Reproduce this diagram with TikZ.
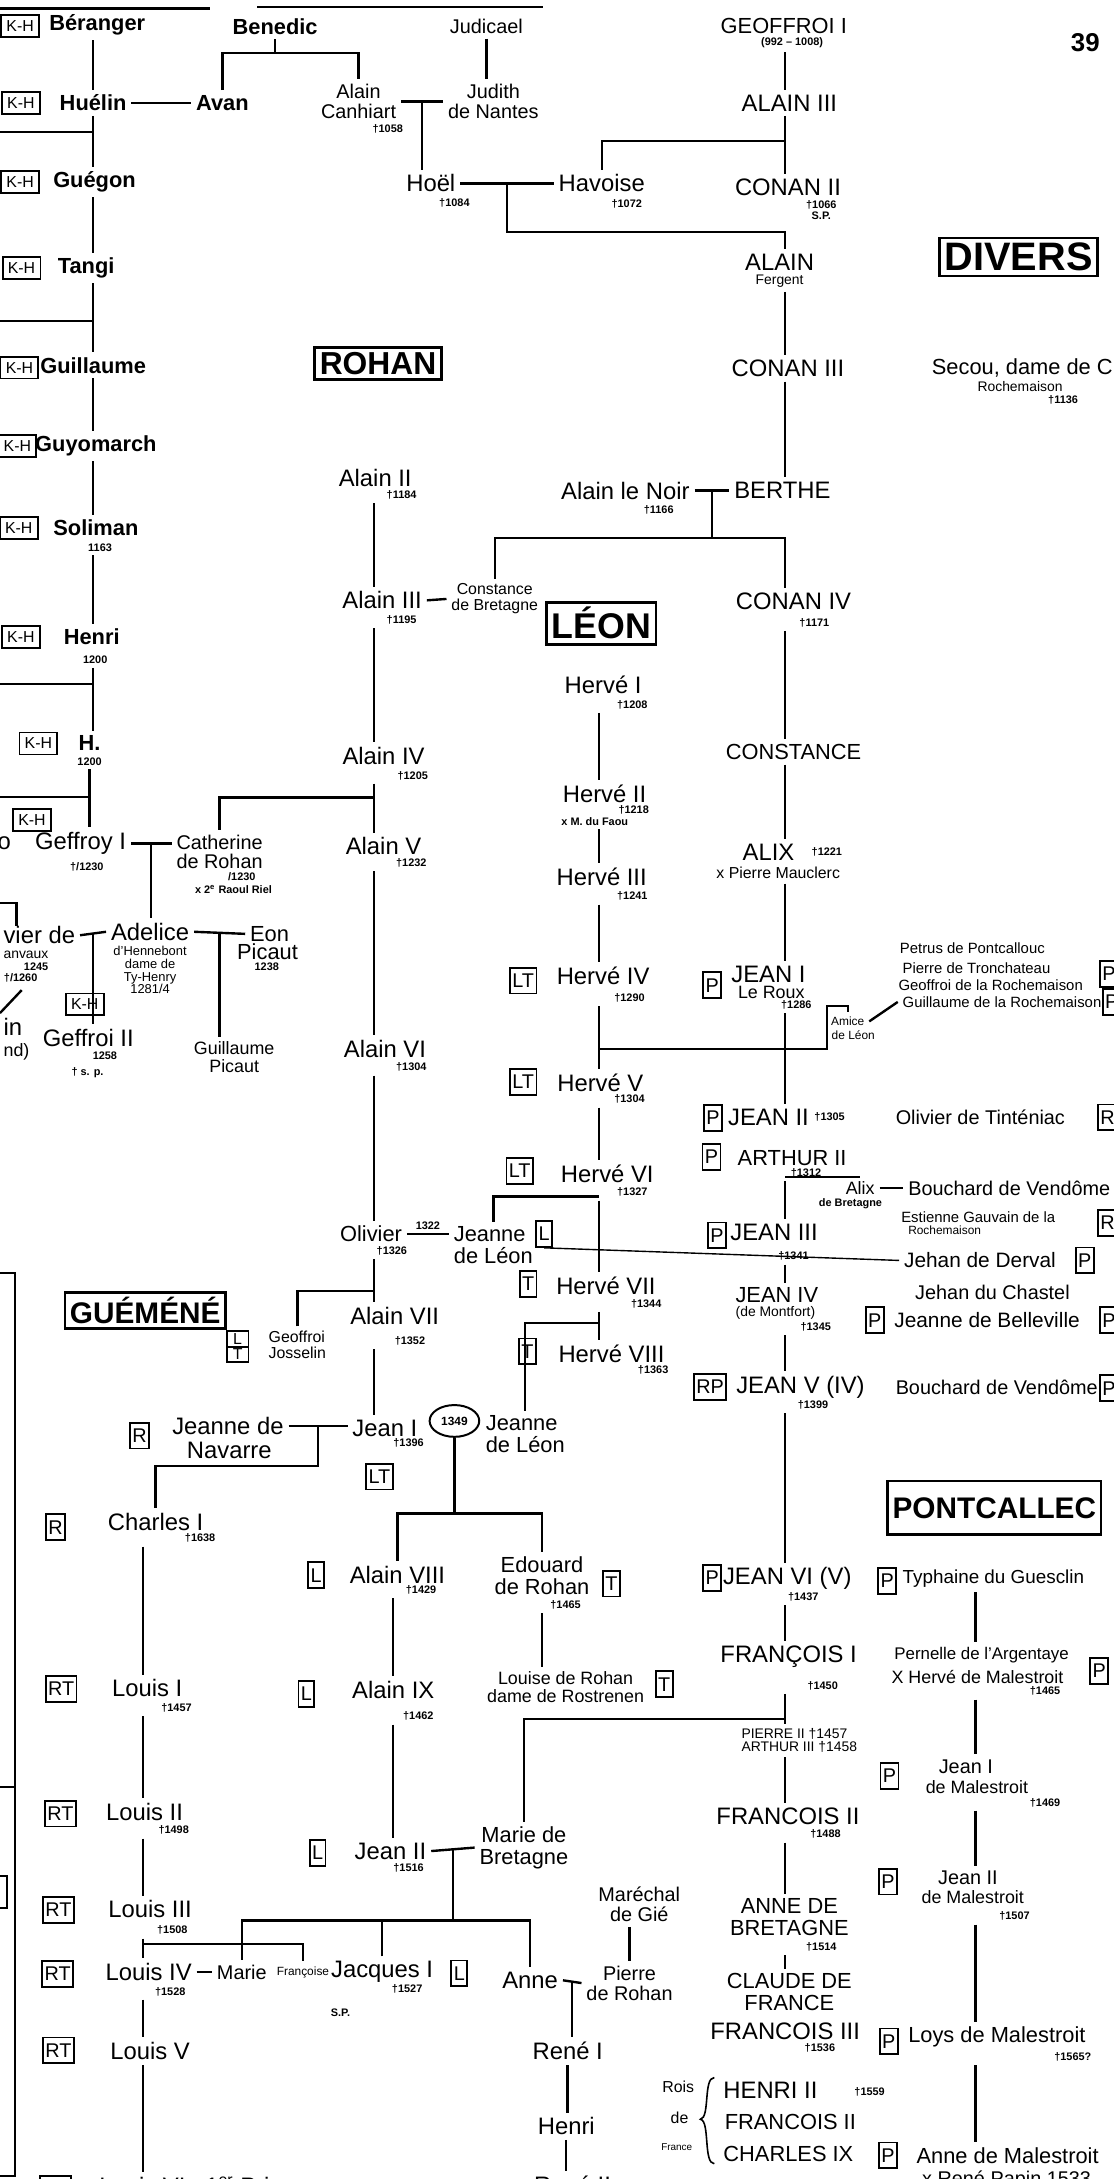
\documentclass[tikz,border=0pt]{standalone}
\usepackage{fontspec}
\setmainfont{Liberation Sans}
\usetikzlibrary{shapes.geometric}
\newcommand{\fsz}[1]{\fontsize{#1}{#1}\selectfont}
\tikzset{
  nm/.style={inner sep=1pt, outer sep=1.5pt, align=center, font=\fsz{12}},
  nb/.style={nm, font=\bfseries\fsz{11}},
  dt/.style={inner sep=0pt, outer sep=2pt, align=center, font=\bfseries\fsz{5.5}},
  tag/.style={draw, line width=0.9pt, inner sep=1.2pt, minimum height=13pt, font=\fsz{10}},
  kh/.style={tag, font=\fsz{8}, minimum height=11pt, minimum width=19pt},
  ttl/.style={draw, line width=1.4pt, inner sep=2.5pt, font=\bfseries\fsz{17}},
  link/.style={line width=1.2pt},
}

\begin{document}
\begin{tikzpicture}[x=0.7pt, y=-0.7pt]
\useasboundingbox (0,0) rectangle (801,1568);
\fill[white] (0,0) rectangle (801,1568);
\coordinate (khx) at (67,0);
\coordinate (rohx) at (269,0);
\coordinate (leox) at (431,0);
\coordinate (dukx) at (565,0);
\coordinate (mlx) at (702,0);
\coordinate (lox) at (103,0);
% header
\draw[link] (0,6) -- (151,6);
\draw[link] (185,5) -- (391,5);
\node[font=\bfseries\fsz{13}] (page) at (781,31) {39};
% K-H line
\node[kh] (kh1) at (14.5,18.5) {K-H};
\node[nb] (beranger) at (70,18) {Béranger};
\node[kh] (kh2) at (15,74) {K-H};
\node[nb] (huelin) at (67,74) {Huélin};
\node[nb] (avan) at (160,74) {Avan};
\node[nb] (benedic) at (198,19) {Benedic};
\node[nm, font=\fsz{10}] (canhiart) at (258,73) {Alain\\Canhiart};
\node[dt] (canhiartd) at (279,93) {†1058};
\node[nm, font=\fsz{10}] (judicael) at (350,19) {Judicael};
\node[nm, font=\fsz{10}] (judith) at (355,73) {Judith\\de Nantes};
\node[nm] (hoel) at (310,132) {Hoël};
\node[dt] (hoeld) at (327,146) {†1084};
\node[nm] (havoise) at (433,132) {Havoise};
\node[dt] (havoised) at (451,147) {†1072};
\node[kh] (kh3) at (14.5,131) {K-H};
\node[nb] (guegon) at (68,131) {Guégon};
\node[kh] (kh4) at (15.5,193) {K-H};
\node[nb] (tangi) at (62,193) {Tangi};
\node[kh] (kh5) at (14,264.5) {K-H};
\node[nb] (guillaume) at (67,263) {Guillaume};
\node[kh] (kh6) at (12.5,321) {K-H};
\node[nb] (guyomarch) at (69,321) {Guyomarch};
\node[kh] (kh7) at (13.5,380) {K-H};
\node[nb] (soliman) at (69,380) {Soliman};
\node[dt] (solimand) at (72,394) {1163};
\node[kh] (kh8) at (15,458.5) {K-H};
\node[nb] (henri) at (66,458.5) {Henri};
\node[dt] (henrid) at (68.5,475) {1200};
\node[kh] (kh9) at (27.6,535) {K-H};
\node[nb] (hdot) at (64.5,535) {H.};
\node[dt] (hdotd) at (64.5,548) {1200};
\node[kh] (kh10) at (23,590) {K-H};
\node[nm] (ofrag) at (3,607) {o};
\node[nm] (geffroy) at (58,607) {Geffroy I};
\node[dt] (geffroyd) at (62.5,624) {†/1230};
\node[nm, font=\fsz{10}] (catherine) at (158,613) {Catherine\\de Rohan};
\node[dt] (catherined1) at (174,631) {/1230};
\node[dt] (catherined) at (168,640) {x 2\textsuperscript{e} Raoul Riel};
\node[nm] (adelice) at (108,670.5) {Adelice};
\node[nm, font=\fsz{6.5}] (adelices) at (108,698) {d'Hennebont\\dame de\\Ty-Henry\\1281/4};
\node[nm, anchor=west] (olivfrag) at (-1,673) {vier de};
\node[nm, font=\fsz{7}, anchor=west] (lanvaux) at (-1,687) {anvaux};
\node[dt] (lanvauxd) at (26,696) {1245};
\node[dt, anchor=west] (lanvauxd2) at (0,704) {†/1260};
\node[nm, anchor=west] (infrag) at (-1,739) {in};
\node[nm, font=\fsz{9}, anchor=west] (ndfrag) at (-1,757) {nd)};
\node[kh] (kh11) at (61,722.8) {K-H};
\node[nm] (geffroiII) at (63.5,747) {Geffroi II};
\node[dt] (geffroiIId) at (75.5,760) {1258};
\node[dt] (geffroiIId2) at (63,772) {† s. p.};
\node[nm, font=\fsz{11}] (eon) at (194,672) {Eon};
\node[nm, font=\fsz{11}] (picaut) at (192.5,684.5) {Picaut};
\node[dt] (eond) at (192,696) {1238};
\node[nm, font=\fsz{9}] (guillaumeP) at (168.5,761) {Guillaume\\Picaut};
\draw[link] (khx |- beranger.south) -- (khx |- huelin.north);
\draw[link] (huelin.east) -- (avan.west);
\draw[link] (khx |- huelin.south) -- (khx |- guegon.north);
\coordinate (barA) at (0,95);
\draw[link] (barA) -- (barA -| khx);
\draw[link] (khx |- guegon.south) -- (khx |- tangi.north);
\draw[link] (khx |- tangi.south) -- (khx |- guillaume.north);
\coordinate (barB) at (0,231);
\draw[link] (barB) -- (barB -| khx);
\draw[link] (khx |- guillaume.south) -- (khx |- guyomarch.north);
\draw[link] (khx |- guyomarch.south) -- (khx |- soliman.north);
\draw[link] (khx |- solimand.south) -- (khx |- henri.north);
\draw[link] (khx |- henrid.south) -- (khx |- hdot.north);
\coordinate (barC) at (0,492);
\draw[link] (barC) -- (barC -| khx);
\draw[link] (hdot.south |- hdotd.south) -- (hdot.south |- geffroy.north);
\coordinate (barD) at (0,573.5);
\draw[link] (barD) -- (barD -| hdot.south);
\draw[link] (geffroy.east) -- coordinate[midway] (mGC) (catherine.west |- geffroy.east);
\draw[link] (mGC) -- (mGC |- adelice.north);
\draw[link] (olivfrag.east) -- coordinate[midway] (mOA) (adelice.west);
\draw[link] (mOA) -- (mOA |- geffroiII.north);
\draw[link] (adelice.east) -- coordinate[midway] (mAE) (eon.west);
\draw[link] (mAE) -- (mAE |- guillaumeP.north);
\draw[link] (0,650) -- (12,650) -- (12,666);
\draw[link] (15.6,712.5) -- (0,729);
% Benedic and Judicael
\coordinate (barBen) at (0,38);
\draw[link] (benedic.south) -- (benedic.south |- barBen);
\draw[link] (avan.north) |- (barBen -| canhiart.north) -- (canhiart.north);
\draw[link] (judicael.south) -- (judicael.south |- judith.north);
\draw[link] (canhiart.east) -- coordinate[midway] (mCJ) (judith.west);
\draw[link] (mCJ) -- (mCJ |- hoel.north);
\draw[link] (hoel.east) -- coordinate[midway] (mHH) (havoise.west);
% Bretagne
\node[nm, font=\fsz{11}] (geoffroi) at (564,19) {GEOFFROI I};
\node[dt] (geoffroid) at (570,31) {(992 -- 1008)};
\node[nm] (alainIII) at (568,74) {ALAIN III};
\node[nm] (conanII) at (567,135) {CONAN II};
\node[dt] (conanIId) at (591,151) {†1066\\S.P.};
\node[nm] (alainF) at (561,189) {ALAIN};
\node[nm, font=\fsz{7}] (fergent) at (561,202) {Fergent};
\node[nm] (conanIII) at (567,265) {CONAN III};
\node[nm] (alainNoir) at (450,353) {Alain le Noir};
\node[dt] (alainNoird) at (474,367) {†1166};
\node[nm] (berthe) at (563,353) {BERTHE};
\node[nm] (conanIV) at (571,433) {CONAN IV};
\node[dt] (conanIVd) at (586,448) {†1171};
\node[nm, font=\fsz{11}] (constanceD) at (571,541) {CONSTANCE};
\node[nm] (alix) at (553,613) {ALIX};
\node[dt] (alixd) at (595,613) {†1221};
\node[nm, font=\fsz{8}] (mauclerc) at (560,628) {x Pierre Mauclerc};
\node[tag] (pb1) at (512.5,709) {P};
\node[nm] (jeanIb) at (553,701) {JEAN I};
\node[nm, font=\fsz{9}] (leroux) at (555,714) {Le Roux};
\node[dt] (lerouxd) at (573,723) {†1286};
\node[nm, font=\fsz{6}] (amice) at (610,735) {Amice};
\node[nm, font=\fsz{6}] (amiceL) at (614,745) {de Léon};
\node[nm, font=\fsz{7.5}, anchor=west] (petrus) at (644,682) {Petrus de Pontcallouc};
\node[nm, font=\fsz{7.5}, anchor=west] (tronch) at (646,697) {Pierre de Tronchateau};
\node[nm, font=\fsz{7.5}, anchor=west] (rochem) at (643,709) {Geoffroi de la Rochemaison};
\node[nm, font=\fsz{7.5}, anchor=west] (guillR) at (646,721) {Guillaume de la Rochemaison};
\node[tag] (pb1r) at (798,701) {P};
\node[tag] (pb2r) at (800,721) {P};
\node[tag] (pb2) at (513,804.5) {P};
\node[nm] (jeanIIb) at (553,804) {JEAN II};
\node[dt] (jeanIIbd) at (597,804) {†1305};
\node[nm, font=\fsz{10}, anchor=west] (tinteniac) at (641,804) {Olivier de Tinténiac};
\node[tag] (rb1) at (797,804) {R};
\node[tag] (pb3) at (512,832.5) {P};
\node[nm, font=\fsz{11}] (arthurII) at (570,833) {ARTHUR II};
\node[dt] (arthurIId) at (580,844) {†1312};
\node[nm, font=\fsz{9}] (alixB) at (619,855) {Alix};
\node[dt] (alixBd) at (612,866) {de Bretagne};
\node[nm, font=\fsz{10}, anchor=west] (bouchard) at (650,855) {Bouchard de Vendôme};
\node[nm, font=\fsz{7.5}, anchor=west] (estienne) at (645,876) {Estienne Gauvain de la};
\node[nm, font=\fsz{6}, anchor=west] (estienneR) at (650,885) {Rochemaison};
\node[tag] (rb2) at (797,880) {R};
\node[tag] (pb4) at (516,889) {P};
\node[nm] (jeanIIIb) at (557,887) {JEAN III};
\node[dt] (jeanIIIbd) at (571,904) {†1341};
\node[nm, font=\fsz{10.5}, anchor=west] (derval) at (647,907) {Jehan de Derval};
\node[tag] (pb5) at (780.5,907) {P};
\node[nm, font=\fsz{10}, anchor=west] (chastel) at (655,930) {Jehan du Chastel};
\node[nm, font=\fsz{11}] (jeanIV) at (559,932) {JEAN IV};
\node[nm, font=\fsz{7}] (montfort) at (558,945) {(de Montfort)};
\node[dt] (jeanIVd) at (587,955) {†1345};
\node[tag] (pb6) at (629.5,950) {P};
\node[nm, font=\fsz{10.5}, anchor=west] (belleville) at (640,950) {Jeanne de Belleville};
\node[tag] (pb6r) at (798,950) {P};
\node[tag] (rpb) at (511,998) {RP};
\node[nm] (jeanV) at (576,998) {JEAN V (IV)};
\node[dt] (jeanVd) at (585,1011) {†1399};
\node[nm, font=\fsz{10}, anchor=west] (bouchard2) at (641,998) {Bouchard de Vendôme};
\node[tag] (pb7r) at (798,999) {P};
\node[tag] (pb7) at (512.5,1135.5) {P};
\node[nm] (jeanVI) at (566.5,1136) {JEAN VI (V)};
\node[dt] (jeanVId) at (578,1149) {†1437};
\node[nm] (francoisI) at (567.5,1192) {FRANÇOIS I};
\node[dt] (francoisId) at (592,1213) {†1450};
\node[nm, font=\fsz{7}, anchor=west] (pierreII) at (530,1248) {PIERRE II †1457};
\node[nm, font=\fsz{7}, anchor=west] (arthurIII) at (530,1257) {ARTHUR III †1458};
\node[nm] (francoisII) at (567,1307) {FRANCOIS II};
\node[dt] (francoisIId) at (594,1320) {†1488};
\node[nm, font=\fsz{11}] (anneB) at (568,1379.5) {ANNE DE\\BRETAGNE};
\node[dt] (anneBd) at (591,1401) {†1514};
\node[nm, font=\fsz{11}] (claude) at (568,1433.5) {CLAUDE DE\\FRANCE};
\node[nm] (francoisIII) at (565,1462) {FRANCOIS III};
\node[dt] (francoisIIId) at (590,1474) {†1536};
\node[nm, font=\fsz{8}] (rois) at (488,1502) {Rois};
\node[nm, font=\fsz{8}] (roisde) at (489,1524) {de};
\node[nm, font=\fsz{5}] (roisfr) at (487,1545) {France};
\draw[line width=0.8pt] (514,1495) .. controls (506,1495) and (511,1524) .. (504,1525) .. controls (511,1526) and (506,1557) .. (514,1557);
\node[nm, anchor=west] (henriII) at (517,1504) {HENRI II};
\node[dt, anchor=west] (henriIId) at (612,1505) {†1559};
\node[nm, font=\fsz{11}, anchor=west] (francoisIIb) at (518,1527) {FRANCOIS II};
\node[nm, font=\fsz{11}, anchor=west] (charlesIX) at (517,1550) {CHARLES IX};
\draw[link] (dukx |- geoffroid.south) -- (dukx |- alainIII.north);
\draw[link] (dukx |- alainIII.south) -- (dukx |- conanII.north);
\coordinate (barHav) at (0,101.6);
\draw[link] (havoise.north) |- (dukx |- barHav);
\coordinate (barHF) at (0,167);
\draw[link] (mHH) |- (dukx |- barHF) -- (dukx |- alainF.north);
\draw[link] (dukx |- fergent.south) -- (dukx |- conanIII.north);
\draw[link] (dukx |- conanIII.south) -- (dukx |- berthe.north);
\draw[link] (alainNoir.east) -- coordinate[midway] (mNB) (berthe.west);
\coordinate (barNB) at (0,387);
\draw[link] (mNB) -- (mNB |- barNB);
\draw[link] (dukx |- conanIVd.south) -- (dukx |- constanceD.north);
\draw[link] (dukx |- constanceD.south) -- (dukx |- alix.north);
\draw[link] (dukx |- mauclerc.south) -- (dukx |- jeanIb.north);
\draw[link] (dukx |- lerouxd.south) -- (dukx |- jeanIIb.north);
\draw[link] (dukx |- arthurIId.south) -- (dukx |- jeanIIIb.north);
\coordinate (barAx) at (0,847);
\draw[link] (dukx |- barAx) -- (barAx -| alixB.north);
\draw[link] (alixB.east) -- (bouchard.west);
\draw[link] (dukx |- jeanIIIbd.south) -- (dukx |- jeanIV.north);
\draw[link] (dukx |- jeanIVd.south) -- (dukx |- jeanV.north);
\draw[link] (dukx |- jeanVd.south) -- (dukx |- jeanVI.north);
\draw[link] (dukx |- jeanVId.south) -- (dukx |- francoisI.north);
\draw[link] (dukx |- francoisId.south) -- (dukx |- pierreII.north);
\draw[link] (dukx |- arthurIII.south) -- (dukx |- francoisII.north);
\draw[link] (dukx |- francoisIId.south) -- (dukx |- anneB.north);
\draw[link] (dukx |- anneBd.south) -- (dukx |- claude.north);
\draw[link] (amice.east) -- (guillR.west);
% Divers and Pontcallec
\node[ttl, font=\bfseries\fsz{20}] (divers) at (733,185) {DIVERS};
\node[nm, font=\fsz{11}, anchor=west] (secou) at (667,265) {Secou, dame de C};
\node[nm, font=\fsz{7}] (secour) at (734,278) {Rochemaison};
\node[dt] (secoud) at (765,288) {†1136};
\node[ttl, font=\bfseries\fsz{15}, minimum height=27pt] (pontcallec) at (715.5,1085) {PONTCALLEC};
\node[tag] (pb8) at (638.5,1137.5) {P};
\node[nm, font=\fsz{9.5}, anchor=west] (typhaine) at (646,1136) {Typhaine du Guesclin};
\node[nm, font=\fsz{8.5}, anchor=west] (pernelle) at (640,1191) {Pernelle de l'Argentaye};
\node[nm, font=\fsz{9}, anchor=west] (herveM) at (638,1207) {X Hervé de Malestroit};
\node[dt] (herveMd) at (752,1217) {†1465};
\node[tag] (pb9) at (791,1202.5) {P};
\node[tag] (pm1) at (640,1278) {P};
\node[nm, font=\fsz{10}] (mjI) at (695,1271) {Jean I};
\node[nm, font=\fsz{9}] (mjIs) at (703,1286) {de Malestroit};
\node[dt] (mjId) at (752,1297) {†1469};
\node[tag] (pm2) at (639,1354) {P};
\node[nm, font=\fsz{10}] (mjII) at (696.5,1351) {Jean II};
\node[nm, font=\fsz{9}] (mjIIs) at (700,1365) {de Malestroit};
\node[dt] (mjIId) at (730,1379) {†1507};
\node[tag] (pm3) at (639.5,1469) {P};
\node[nm, font=\fsz{11}, anchor=west] (loys) at (650,1466) {Loys de Malestroit};
\node[dt] (loysd) at (772,1480) {†1565?};
\node[tag] (pm4) at (639,1551) {P};
\node[nm, font=\fsz{11}, anchor=west] (anneM) at (656,1551) {Anne de Malestroit};
\node[nm, font=\fsz{10}, anchor=west] (papin) at (660,1569) {x René Papin 1533};
\draw[link] (mlx |- typhaine.south) -- (mlx |- pernelle.north);
\draw[link] (mlx |- herveMd.south) -- (mlx |- mjI.north);
\draw[link] (mlx |- mjId.south) -- (mlx |- mjII.north);
\draw[link] (mlx |- mjIId.south) -- (mlx |- loys.north);
\draw[link] (mlx |- loysd.south) -- (mlx |- anneM.north);
% Rohan
\node[ttl, font=\bfseries\fsz{16}] (rohan) at (272,261.5) {ROHAN};
\node[nm] (alainII) at (270,344) {Alain II};
\node[dt] (alainIId) at (289,356) {†1184};
\node[nm] (alainIIIr) at (275,432) {Alain III};
\node[dt] (alainIIIrd) at (289,446) {†1195};
\node[nm, font=\fsz{8}] (constance) at (356,431) {Constance\\de Bretagne};
\node[nm] (alainIV) at (276,544) {Alain IV};
\node[dt] (alainIVd) at (297,558) {†1205};
\node[nm] (alainV) at (276,609) {Alain V};
\node[dt] (alainVd) at (296,621) {†1232};
\node[nm] (alainVI) at (277,755) {Alain VI};
\node[dt] (alainVId) at (296,768) {†1304};
\node[nm, font=\fsz{11}] (olivier) at (267,888) {Olivier};
\node[dt] (olivierd) at (282,900) {†1326};
\node[nm, font=\fsz{11}, align=left] (jeanneL) at (355,896) {Jeanne\\de Léon};
\node[tag] (lbox1) at (391.5,888) {L};
\node[ttl, font=\bfseries\fsz{15}] (guemene) at (104.5,943) {GUÉMÉNÉ};
\node[nm] (alainVII) at (284,947) {Alain VII};
\node[dt] (alainVIId) at (295,965) {†1352};
\node[tag, font=\fsz{8}, minimum height=0pt, minimum width=11pt] (lbox2) at (171,963.5) {L};
\node[tag, font=\fsz{8}, minimum height=0pt, minimum width=11pt] (tbox2) at (171,974.5) {T};
\node[nm, font=\fsz{8}, align=left] (geoffroiJ) at (214,968) {Geoffroi\\Josselin};
\node[tag] (rbox1) at (100.5,1033) {R};
\node[nm] (jeanneN) at (164,1026) {Jeanne de};
\node[nm] (navarre) at (165,1044) {Navarre};
\node[nm] (jeanI) at (277,1028) {Jean I};
\node[dt] (jeanId) at (294,1038) {†1396};
\node[tag] (ltbox1) at (273,1062.5) {LT};
\node[draw, ellipse, line width=1pt, inner sep=1pt, minimum width=25pt, minimum height=16pt, font=\bfseries\fsz{6}] (oval) at (327,1022.5) {1349};
\node[nm, font=\fsz{11}, align=left] (jeanneL2) at (378,1032) {Jeanne\\de Léon};
\node[tag] (rbox2) at (40,1099) {R};
\node[nm] (charles) at (112,1095) {Charles I};
\node[dt] (charlesd) at (144,1107) {†1638};
\node[tag] (lbox3) at (227.5,1133.5) {L};
\node[nm] (alainVIII) at (286,1133) {Alain VIII};
\node[dt] (alainVIIId) at (303,1144) {†1429};
\node[nm, font=\fsz{11}] (edouard) at (390,1134) {Edouard\\de Rohan};
\node[dt] (edouardd) at (407,1155) {†1465};
\node[tag] (tbox3) at (440,1139.5) {T};
\node[tag] (lbox4) at (220.5,1219) {L};
\node[nm] (alainIX) at (283,1216) {Alain IX};
\node[dt] (alainIXd) at (301,1235) {†1462};
\node[nm, font=\fsz{9}] (louise) at (407,1214) {Louise de Rohan\\dame de Rostrenen};
\node[tag] (tbox4) at (478,1212) {T};
\node[tag] (lbox5) at (228.5,1333.5) {L};
\node[nm] (jeanII) at (281,1332) {Jean II};
\node[dt] (jeanIId) at (294,1344) {†1516};
\node[nm, font=\fsz{11}] (marieB) at (377,1329.5) {Marie de\\Bretagne};
\node[tag] (rt1) at (44,1215.5) {RT};
\node[nm] (louisI) at (106,1215) {Louis I};
\node[dt] (louisId) at (127,1229) {†1457};
\node[tag] (rt2) at (43.5,1305) {RT};
\node[nm] (louisII) at (104,1304) {Louis II};
\node[dt] (louisIId) at (125,1317) {†1498};
\node[tag] (rt3) at (42,1374.5) {RT};
\node[nm] (louisIII) at (108,1374) {Louis III};
\node[dt] (louisIIId) at (124,1389) {†1508};
\node[tag] (rt4) at (41.5,1420.5) {RT};
\node[nm] (louisIV) at (107,1419) {Louis IV};
\node[dt] (louisIVd) at (122.5,1433) {†1528};
\node[nm, font=\fsz{10}] (marie) at (174,1419) {Marie};
\node[nm, font=\fsz{6}] (francoise) at (218,1419) {Françoise};
\node[dt] (francoised) at (245,1448) {S.P.};
\node[nm] (jacquesI) at (275,1419) {Jacques I};
\node[dt] (jacquesId) at (293,1431) {†1527};
\node[tag] (lbox6) at (330.5,1420) {L};
\node[tag] (rt5) at (42,1475.5) {RT};
\node[nm] (louisV) at (108,1476) {Louis V};
\node[tag] (rt6) at (40,1575) {RT};
\node[nm, anchor=west] (louisVI) at (68,1573) {Louis VI \ \ 1\textsuperscript{er} Prince};
\node[nm] (anne) at (381.5,1425) {Anne};
\node[nm, font=\fsz{10}] (pierreR) at (453,1427) {Pierre\\de Rohan};
\node[nm, font=\fsz{10}] (marechal) at (460,1370.5) {Maréchal\\de Gié};
\node[nm] (reneI) at (408.5,1476) {René I};
\node[nm] (henriR) at (407.5,1530) {Henri};
\node[nm] (reneII) at (412,1572) {René II};
\draw[link] (rohx |- alainIId.south) -- (rohx |- alainIIIr.north);
\draw[link] (alainIIIr.east) -- (constance.west);
\draw[link] (constance.north) |- (dukx |- barNB) -- (dukx |- conanIV.north);
\draw[link] (rohx |- alainIIIrd.south) -- (rohx |- alainIV.north);
\draw[link] (rohx |- alainIVd.south) -- (rohx |- alainV.north);
\coordinate (barCat) at (0,574);
\draw[link] (catherine.north) |- (rohx |- barCat);
\draw[link] (rohx |- alainVd.south) -- (rohx |- alainVI.north);
\draw[link] (rohx |- alainVId.south) -- (rohx |- olivier.north);
\draw[link] (rohx |- olivierd.south) -- (rohx |- alainVII.north);
\coordinate (barGJ) at (0,929);
\draw[link] (geoffroiJ.north) |- (rohx |- barGJ);
\draw[link] (olivier.east) -- node[dt, above] (y1322) {1322} (jeanneL.west |- olivier.east);
\draw[link] (rohx |- alainVIId.south) -- (rohx |- jeanI.north);
\draw[link] (jeanneN.east) -- coordinate[midway] (mJN) (jeanI.west |- jeanneN.east);
\coordinate (barNav) at (0,1055);
\draw[link] (mJN) |- (charles.north |- barNav) -- (charles.north);
\coordinate (barJ1) at (0,1089);
\draw[link] (oval.south) -- (oval.south |- barJ1);
\draw[link] (alainVIII.north) |- (barJ1 -| edouard.north) -- (edouard.north);
\draw[link] (alainIX.north |- alainVIIId.south) -- (alainIX.north);
\draw[link] (edouard.south |- edouardd.south) -- (edouard.south |- louise.north);
\draw[link] (alainIX.south |- alainIXd.south) -- (alainIX.south |- jeanII.north);
\draw[link] (jeanII.east) -- coordinate[midway] (mJM) (marieB.west);
\coordinate (barJ2) at (0,1382);
\draw[link] (mJM) -- (mJM |- barJ2);
\draw[link] (marie.north) |- (barJ2 -| anne.north) -- (anne.north);
\draw[link] (jacquesI.north) -- (jacquesI.north |- barJ2);
\coordinate (barFM) at (0,1237);
\draw[link] (marieB.north) |- (dukx |- barFM);
\draw[link] (lox |- charlesd.south) -- (lox |- louisI.north);
\draw[link] (lox |- louisId.south) -- (lox |- louisII.north);
\draw[link] (lox |- louisIId.south) -- (lox |- louisIII.north);
\draw[link] (lox |- louisIIId.south) -- (lox |- louisIV.north);
\coordinate (barL3) at (0,1399);
\draw[link] (lox |- barL3) -| (francoise.north);
\draw[link] (louisIV.east) -- (marie.west);
\draw[link] (lox |- louisIVd.south) -- (lox |- louisV.north);
\draw[link] (lox |- louisV.south) -- (lox |- louisVI.north);
\draw[link] (anne.east) -- coordinate[midway] (mAP) (pierreR.west);
\draw[link] (mAP) -- (mAP |- reneI.north);
\draw[link] (pierreR.north |- marechal.south) -- (pierreR.north);
\draw[link] (reneI.south) -- (reneI.south |- henriR.north);
\draw[link] (henriR.south) -- (henriR.south |- reneII.north);
\draw[link] (0,916) -- (11,916) -- (11,1566) -- (0,1566);
\draw[link] (0,1286) -- (11,1286);
\draw[link] (0,1350) -- (5,1350) -- (5,1373) -- (0,1373);
% Leon
\node[ttl, font=\bfseries\fsz{18}] (leon) at (432.7,448.5) {LÉON};
\node[nm] (herveI) at (434,493) {Hervé I};
\node[dt] (herveId) at (455,507) {†1208};
\node[nm] (herveII) at (435,571.5) {Hervé II};
\node[dt] (herveIId) at (456,583) {†1218};
\node[dt] (herveIIs) at (428,591) {x M. du Faou};
\node[nm] (herveIII) at (433,630.7) {Hervé III};
\node[dt] (herveIIId) at (455,645) {†1241};
\node[tag] (lt1) at (376.5,705.6) {LT};
\node[nm] (herveIV) at (434,702) {Hervé IV};
\node[dt] (herveIVd) at (453,718) {†1290};
\node[tag] (lt2) at (376.5,778.5) {LT};
\node[nm] (herveV) at (432,779) {Hervé V};
\node[dt] (herveVd) at (453,791) {†1304};
\node[tag] (lt3) at (374,842.5) {LT};
\node[nm] (herveVI) at (437,845) {Hervé VI};
\node[dt] (herveVId) at (455,858) {†1327};
\node[tag] (tb1) at (380,924) {T};
\node[nm] (herveVII) at (436,925) {Hervé VII};
\node[dt] (herveVIId) at (465,938) {†1344};
\node[tag] (tb2) at (379.5,972.5) {T};
\node[nm] (herveVIII) at (440,974) {Hervé VIII};
\node[dt] (herveVIIId) at (470,986) {†1363};
\draw[link] (leox |- herveId.south) -- (leox |- herveII.north);
\draw[link] (leox |- herveIIs.south) -- (leox |- herveIII.north);
\draw[link] (leox |- herveIIId.south) -- (leox |- herveIV.north);
\draw[link] (leox |- herveIVd.south) -- (leox |- herveV.north);
\coordinate (barAm) at (0,755);
\coordinate (amc) at (595,724);
\draw[link] (leox |- barAm) -| (amc) -| (amice.north);
\draw[link] (leox |- herveVd.south) -- (leox |- herveVI.north);
\draw[link] (leox |- herveVId.south) -- (leox |- herveVII.north);
\coordinate (barJL) at (0,861);
\draw[link] (jeanneL.north) |- (leox |- barJL);
\draw[link] (leox |- herveVIId.south) -- (leox |- herveVIII.north);
\coordinate (barJL2) at (0,952);
\draw[link] (jeanneL2.north) |- (leox |- barJL2);
\draw[line width=0.7pt] (lbox1.south) -- (derval.west);
\end{tikzpicture}
\end{document}
